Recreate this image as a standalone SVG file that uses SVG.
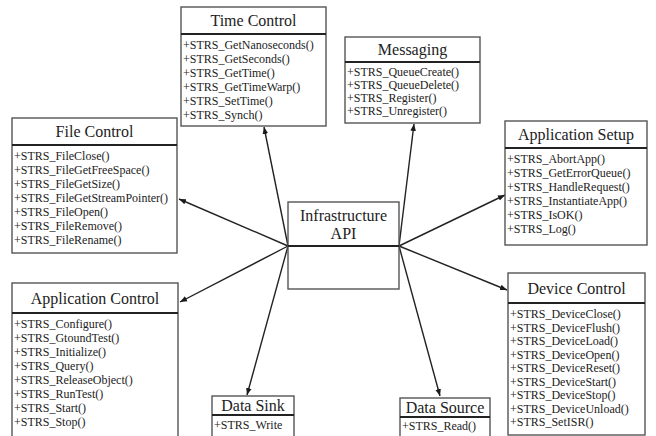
<svg xmlns="http://www.w3.org/2000/svg" width="656" height="436" viewBox="0 0 656 436">
  <defs>
    <marker id="arrow" viewBox="0 0 10 10" refX="10" refY="5" markerWidth="7" markerHeight="7" orient="auto" markerUnits="userSpaceOnUse">
      <path d="M0,1 L10,5 L0,9 Z" fill="#1a1a1a"/>
    </marker>
  </defs>
  <style>
    .box { fill: #ffffff; stroke: #555555; stroke-width: 1.4; }
    .div { stroke: #222222; stroke-width: 2; }
    .title { font-family: "Liberation Serif", "Times New Roman", serif; font-size: 16px; fill: #222222; text-anchor: middle; }
    .m { font-family: "Liberation Serif", "Times New Roman", serif; font-size: 12px; fill: #222222; }
    .conn line { stroke: #222222; stroke-width: 1.4; marker-end: url(#arrow); }
  </style>
  <rect width="656" height="436" fill="#ffffff"/>

  <!-- connectors from the central API box -->
  <g id="connectors" class="conn">
    <line x1="288" y1="246" x2="264" y2="127"/>
    <line x1="288" y1="246" x2="179" y2="199"/>
    <line x1="288" y1="246" x2="180" y2="302"/>
    <line x1="288" y1="246" x2="247" y2="395"/>
    <line x1="399" y1="246" x2="414" y2="124"/>
    <line x1="399" y1="246" x2="505" y2="195"/>
    <line x1="399" y1="246" x2="507" y2="290"/>
    <line x1="399" y1="246" x2="440" y2="396"/>
  </g>

  <g id="infrastructure-api">
    <rect class="box" x="288" y="202" width="111" height="87"/>
    <line class="div" x1="288" y1="246" x2="399" y2="246"/>
    <text class="title" x="343.5" y="221">Infrastructure</text>
    <text class="title" x="343.5" y="239">API</text>
  </g>

  <g id="time-control">
    <rect class="box" x="181" y="7" width="145" height="119"/>
    <line class="div" x1="181" y1="34" x2="326" y2="34"/>
    <text class="title" x="253.5" y="26">Time Control</text>
    <text class="m" x="183" y="49">+STRS_GetNanoseconds()</text>
    <text class="m" x="183" y="63">+STRS_GetSeconds()</text>
    <text class="m" x="183" y="77">+STRS_GetTime()</text>
    <text class="m" x="183" y="91">+STRS_GetTimeWarp()</text>
    <text class="m" x="183" y="105">+STRS_SetTime()</text>
    <text class="m" x="183" y="119">+STRS_Synch()</text>
  </g>

  <g id="messaging">
    <rect class="box" x="345" y="37" width="135" height="86"/>
    <line class="div" x1="345" y1="62" x2="480" y2="62"/>
    <text class="title" x="412.5" y="55">Messaging</text>
    <text class="m" x="347" y="76">+STRS_QueueCreate()</text>
    <text class="m" x="347" y="89">+STRS_QueueDelete()</text>
    <text class="m" x="347" y="102">+STRS_Register()</text>
    <text class="m" x="347" y="115">+STRS_Unregister()</text>
  </g>

  <g id="file-control">
    <rect class="box" x="12" y="118" width="165" height="135"/>
    <line class="div" x1="12" y1="145" x2="177" y2="145"/>
    <text class="title" x="94.5" y="137">File Control</text>
    <text class="m" x="14" y="160">+STRS_FileClose()</text>
    <text class="m" x="14" y="174">+STRS_FileGetFreeSpace()</text>
    <text class="m" x="14" y="188">+STRS_FileGetSize()</text>
    <text class="m" x="14" y="202">+STRS_FileGetStreamPointer()</text>
    <text class="m" x="14" y="216">+STRS_FileOpen()</text>
    <text class="m" x="14" y="230">+STRS_FileRemove()</text>
    <text class="m" x="14" y="244">+STRS_FileRename()</text>
  </g>

  <g id="application-setup">
    <rect class="box" x="505" y="121" width="142" height="124"/>
    <line class="div" x1="505" y1="148" x2="647" y2="148"/>
    <text class="title" x="576" y="140">Application Setup</text>
    <text class="m" x="507" y="163">+STRS_AbortApp()</text>
    <text class="m" x="507" y="177">+STRS_GetErrorQueue()</text>
    <text class="m" x="507" y="191">+STRS_HandleRequest()</text>
    <text class="m" x="507" y="205">+STRS_InstantiateApp()</text>
    <text class="m" x="507" y="219">+STRS_IsOK()</text>
    <text class="m" x="507" y="233">+STRS_Log()</text>
  </g>

  <g id="application-control">
    <rect class="box" x="12" y="283" width="166" height="160"/>
    <line class="div" x1="12" y1="313" x2="178" y2="313"/>
    <text class="title" x="95" y="304">Application Control</text>
    <text class="m" x="14" y="328">+STRS_Configure()</text>
    <text class="m" x="14" y="342">+STRS_GtoundTest()</text>
    <text class="m" x="14" y="356">+STRS_Initialize()</text>
    <text class="m" x="14" y="370">+STRS_Query()</text>
    <text class="m" x="14" y="384">+STRS_ReleaseObject()</text>
    <text class="m" x="14" y="398">+STRS_RunTest()</text>
    <text class="m" x="14" y="412">+STRS_Start()</text>
    <text class="m" x="14" y="426">+STRS_Stop()</text>
  </g>

  <g id="device-control">
    <rect class="box" x="508" y="273" width="137" height="162"/>
    <line class="div" x1="508" y1="303" x2="645" y2="303"/>
    <text class="title" x="576.5" y="294">Device Control</text>
    <text class="m" x="510" y="318">+STRS_DeviceClose()</text>
    <text class="m" x="510" y="331.5">+STRS_DeviceFlush()</text>
    <text class="m" x="510" y="345">+STRS_DeviceLoad()</text>
    <text class="m" x="510" y="358.5">+STRS_DeviceOpen()</text>
    <text class="m" x="510" y="372">+STRS_DeviceReset()</text>
    <text class="m" x="510" y="385.5">+STRS_DeviceStart()</text>
    <text class="m" x="510" y="399">+STRS_DeviceStop()</text>
    <text class="m" x="510" y="412.5">+STRS_DeviceUnload()</text>
    <text class="m" x="510" y="426">+STRS_SetISR()</text>
  </g>

  <g id="data-sink">
    <rect class="box" x="212" y="396" width="82" height="46"/>
    <line class="div" x1="212" y1="415" x2="294" y2="415"/>
    <text class="title" x="253" y="411">Data Sink</text>
    <text class="m" x="214" y="429">+STRS_Write</text>
  </g>

  <g id="data-source">
    <rect class="box" x="400" y="398" width="90" height="44"/>
    <line class="div" x1="400" y1="417" x2="490" y2="417"/>
    <text class="title" x="445" y="413">Data Source</text>
    <text class="m" x="402" y="430">+STRS_Read()</text>
  </g>
</svg>
